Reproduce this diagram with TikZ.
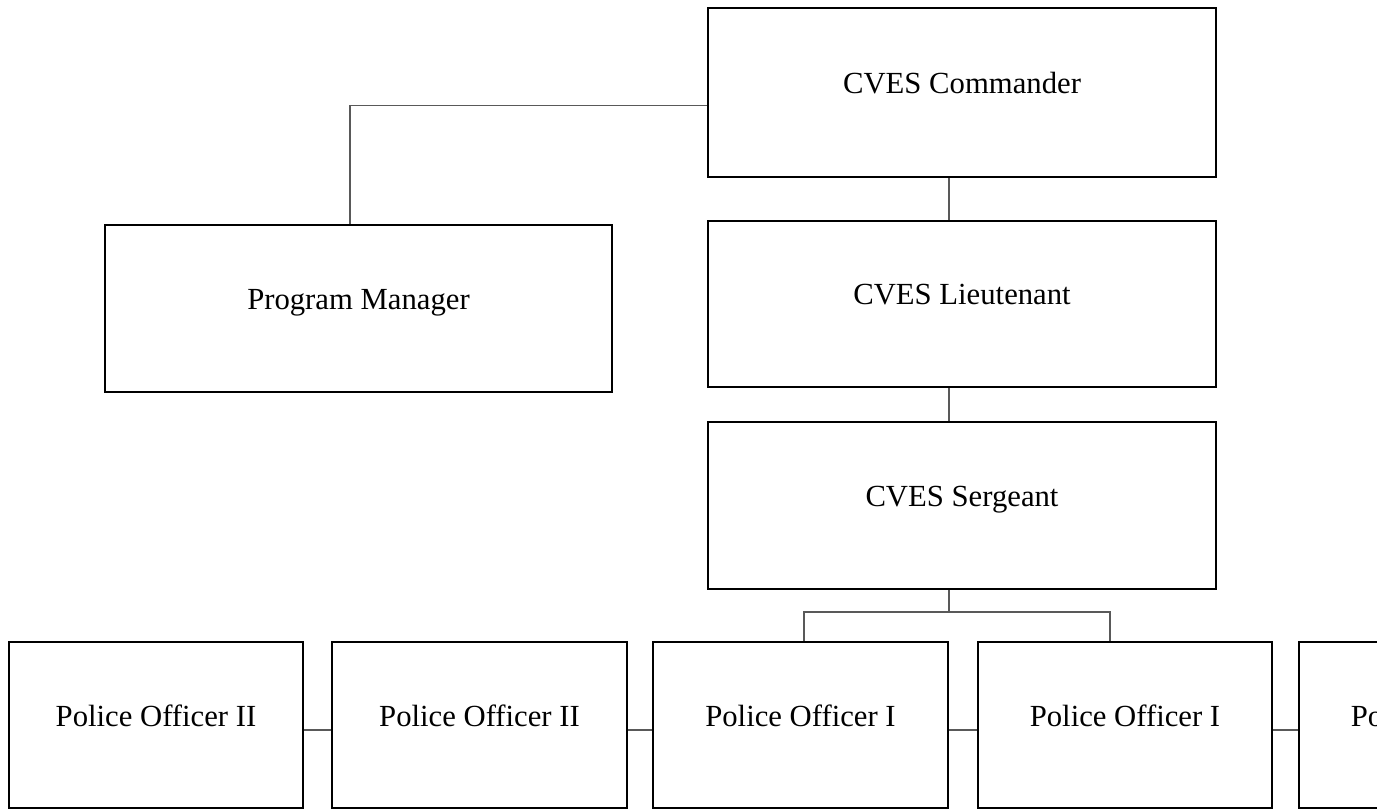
\documentclass[tikz,border=0pt]{standalone}
\usepackage{fontspec}
\setmainfont{Liberation Serif}
\begin{document}
\begin{tikzpicture}[x=1pt,y=-1pt,
  box/.style={draw=black,line width=2.5pt,rectangle,inner sep=0pt,fill=white},
  lbl/.style={anchor=base,inner sep=0pt,font=\fontsize{30.7}{36}\selectfont,yshift=-1pt},
  conn/.style={draw=black!65,line width=1.3pt}]
\useasboundingbox (0,0) rectangle (1377,810);
\clip (0,0) rectangle (1377,810);
\fill[white] (0,0) rectangle (1377,810);
% boxes
\node[box,minimum width=508pt,minimum height=169pt] (cmd) at (962,92.5) {};
\node[box,minimum width=508pt,minimum height=166pt] (lt) at (962,304) {};
\node[box,minimum width=508pt,minimum height=167pt] (sg) at (962,505.5) {};
\node[box,minimum width=507pt,minimum height=167pt] (pm) at (358.5,308.5) {};
\node[box,minimum width=294pt,minimum height=166pt] (b1) at (156,725) {};
\node[box,minimum width=295pt,minimum height=166pt] (b2) at (479.5,725) {};
\node[box,minimum width=295pt,minimum height=166pt] (b3) at (800.5,725) {};
\node[box,minimum width=294pt,minimum height=166pt] (b4) at (1125,725) {};
\node[box,minimum width=294pt,minimum height=166pt] (b5) at (1446,725) {};
% labels
\node[lbl] (cmdT) at (cmd.center) {CVES Commander};
\node[lbl] (ltT) at (lt.center) {CVES Lieutenant};
\node[lbl] (sgT) at (sg.center) {CVES Sergeant};
\node[lbl] (pmT) at (pm.center) {Program Manager};
\node[lbl] (b1T) at (b1.center) {Police Officer II};
\node[lbl] (b2T) at (b2.center) {Police Officer II};
\node[lbl] (b3T) at (b3.center) {Police Officer I};
\node[lbl] (b4T) at (b4.center) {Police Officer I};
\node[lbl] (b5T) at (b5.center) {Police Officer I};
% connectors
\coordinate (br) at (949,612);
\draw[conn] ([yshift=-13pt]cmd.west) -| ([xshift=-8.5pt]pm.north);
\draw[conn] ([xshift=-13pt]cmd.south) -- ([xshift=-13pt]lt.north);
\draw[conn] ([xshift=-13pt]lt.south) -- ([xshift=-13pt]sg.north);
\draw[conn] ([xshift=-13pt]sg.south) -- (br);
\draw[conn] (br) -| ([xshift=3.5pt]b3.north);
\draw[conn] (br) -| ([xshift=-15pt]b4.north);
\draw[conn] ([yshift=-5pt]b1.east) -- ([yshift=-5pt]b2.west);
\draw[conn] ([yshift=-5pt]b2.east) -- ([yshift=-5pt]b3.west);
\draw[conn] ([yshift=-5pt]b3.east) -- ([yshift=-5pt]b4.west);
\draw[conn] ([yshift=-5pt]b4.east) -- ([yshift=-5pt]b5.west);
\end{tikzpicture}
\end{document}
